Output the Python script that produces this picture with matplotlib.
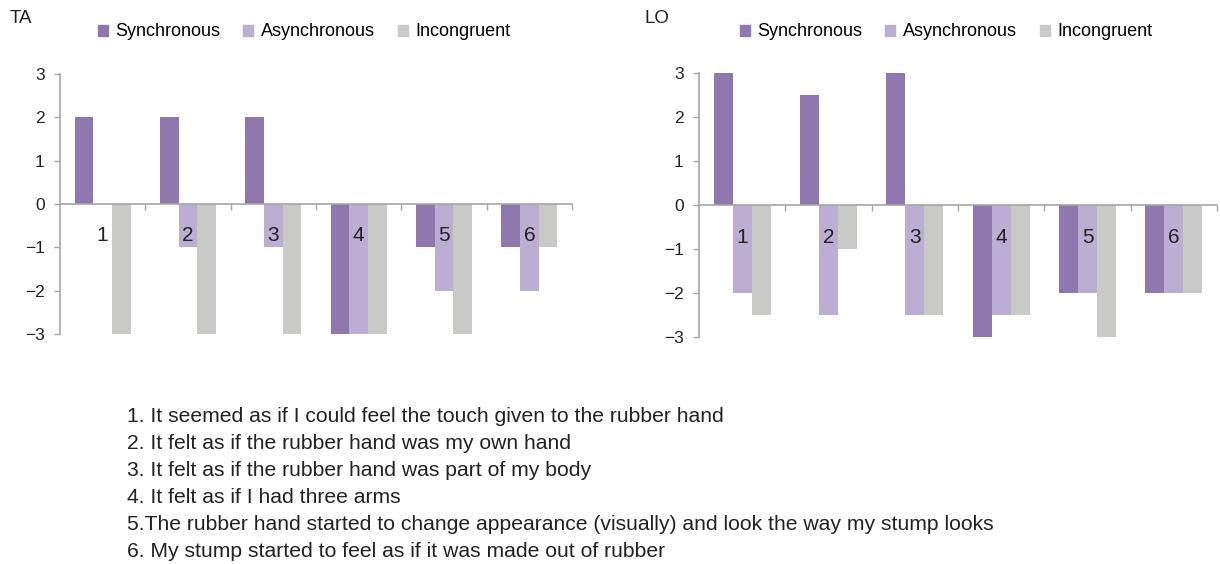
import numpy as np
import matplotlib
matplotlib.use('Agg')
import matplotlib.pyplot as plt
from matplotlib.patches import Patch

# questionnaire items 1-6, ratings per condition
items = ['1', '2', '3', '4', '5', '6']
series = ['Synchronous', 'Asynchronous', 'Incongruent']
colors = ['#8e78ae', '#bcaed3', '#c9c9c7']

ta_sync = [2, 2, 2, -3, -1, -1]
ta_async = [0, -1, -1, -3, -2, -2]
ta_incong = [-3, -3, -3, -3, -3, -1]

lo_sync = [3, 2.5, 3, -3, -2, -2]
lo_async = [-2, -2.5, -2.5, -2.5, -2, -2]
lo_incong = [-2.5, -1, -2.5, -2.5, -3, -2]

statements = [
    '1. It seemed as if I could feel the touch given to the rubber hand',
    '2. It felt as if the rubber hand was my own hand',
    '3. It felt as if the rubber hand was part of my body',
    '4. It felt as if I had three arms',
    '5.The rubber hand started to change appearance (visually) and look the way my stump looks',
    '6. My stump started to feel as if it was made out of rubber',
]

plt.rcParams['font.family'] = ['Liberation Sans', 'DejaVu Sans']
axis_col = '#a6a6a6'

fig = plt.figure(figsize=(12.2, 5.64), dpi=100)


def panel(rect, data, name, name_x, leg_x):
    ax = fig.add_axes(rect)
    x = np.arange(len(items))
    w = 0.22
    for k, vals in enumerate(data):
        ax.bar(x + (k - 1) * w, vals, w, color=colors[k], zorder=2)
    ax.set_xlim(-0.5, len(items) - 0.5)
    ax.set_ylim(-3, 3)
    ax.set_yticks(range(-3, 4))
    ax.set_yticklabels([str(v).replace('-', '\u2212') for v in range(-3, 4)])
    ax.tick_params(axis='y', length=4, width=1, color=axis_col, labelsize=12.5,
                   pad=7, labelcolor='#222222')
    ax.set_xticks(np.arange(len(items)) + 0.5)
    ax.set_xticklabels([])
    ax.tick_params(axis='x', length=4, width=1, color=axis_col, direction='out')
    for s in ['top', 'right']:
        ax.spines[s].set_visible(False)
    ax.spines['left'].set_color(axis_col)
    ax.spines['left'].set_linewidth(1.2)
    ax.spines['bottom'].set_position(('data', 0))
    ax.spines['bottom'].set_color(axis_col)
    ax.spines['bottom'].set_linewidth(1.2)
    ax.spines['bottom'].set_zorder(3)
    for i, lab in enumerate(items):
        ax.text(i, -0.73, lab, ha='center', va='center', fontsize=15,
                color='#222222', zorder=4)
    fig.text(name_x, 1 - 23 / 564, name, fontsize=13.5, va='baseline',
             color='#222222')
    handles = [Patch(color=c) for c in colors]
    fig.legend(handles, series, loc='center', ncol=3,
               bbox_to_anchor=(leg_x, 1 - 32 / 564), frameon=False,
               fontsize=13, handlelength=0.55, handleheight=0.55,
               handletextpad=0.4, columnspacing=1.3)
    return ax


panel([60 / 1220, 1 - 334 / 564, 512 / 1220, 260 / 564],
      [ta_sync, ta_async, ta_incong], 'TA', 10 / 1220, 304 / 1220)
panel([699 / 1220, 1 - 337 / 564, 518 / 1220, 264 / 564],
      [lo_sync, lo_async, lo_incong], 'LO', 645 / 1220, 946 / 1220)

for i, s in enumerate(statements):
    fig.text(127 / 1220, 1 - (422 + 27 * i) / 564, s, fontsize=15.2,
             va='baseline', color='#222222')

fig.savefig('out.png', dpi=100)
